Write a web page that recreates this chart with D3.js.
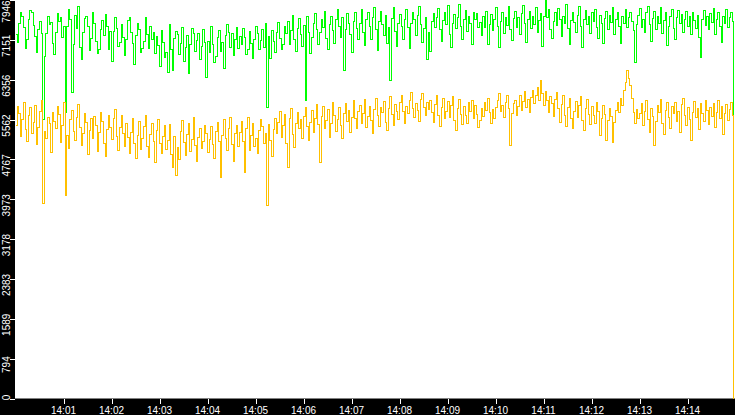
<!DOCTYPE html>
<html>
<head>
<meta charset="utf-8">
<script src="https://cdn.jsdelivr.net/npm/d3@7"></script>
<style>
  body { margin: 0; background: #000; }
  svg { display: block; }
</style>
</head>
<body>
<svg id="chart"></svg>
<script>
// Width and height of svg
var width = 735;
var height = 415;

// sampling: one value every 2 s from 14:00:00
var startTime = new Date(2024, 0, 1, 14, 0, 0);
var endTime = new Date(2024, 0, 1, 14, 15, 0);
var stepMs = 2000;

var yMax = 7946;
var yTickCount = 10;

var greenValues = [
  7250, 7100, 7480, 7690, 7620, 7400, 6980, 7150, 7560, 7740, 7700, 7430, 7210, 6900, 7350,
  7520, 7280, 5560, 6820, 7280, 7610, 7450, 7500, 7080, 6850, 7300, 7670, 7520, 7600, 7190,
  7420, 5700, 7420, 7760, 7550, 6100, 7050, 7640, 7380, 7820, 7000, 6760, 7290, 7580, 7620,
  7410, 6930, 7180, 7700, 7470, 7120, 6880, 6950, 7360, 7540, 7230, 7650, 7420, 6950, 7310,
  6720, 7310, 7590, 7380, 7020, 7100, 7460, 7200, 6840, 7150, 7530, 7600, 7300, 7070, 6650,
  7240, 7480, 7350, 6900, 6980, 7120, 7600, 7260, 6980, 7420, 7150, 7300, 6880, 7210, 7030,
  6620, 7340, 7100, 6790, 6900, 6500, 7450, 6960, 6540, 7180, 7320, 7250, 6850, 7080, 7400,
  6720, 6990, 7230, 6480, 7050, 7370, 7280, 6920, 7140, 7280, 6760, 7010, 7350, 7100, 6400,
  7120, 6890, 7420, 7050, 6700, 6820, 7190, 7330, 6910, 7100, 6580, 7240, 7460, 7300, 6990,
  7270, 6830, 7150, 7390, 6970, 7210, 7050, 7380, 7200, 6860, 6950, 7310, 7080, 6780, 7150,
  7420, 7270, 6950, 7130, 7360, 7000, 7480, 5800, 7220, 6780, 7340, 7110, 6900, 7290, 7500,
  7180, 6960, 7050, 7410, 7280, 7520, 7060, 7330, 7640, 7150, 6920, 7380, 7570, 7250, 7010,
  7440, 5950, 7620, 7300, 6880, 7190, 7480, 7680, 7360, 7050, 7290, 7560, 7400, 7710, 7180,
  6950, 7450, 7620, 7330, 7080, 7550, 7760, 7410, 7200, 7590, 6550, 7360, 7680, 7470, 7250,
  6890, 7520, 7700, 7380, 7160, 7480, 7750, 7300, 7040, 7560, 7690, 7420, 7150, 7600, 7800,
  7350, 6940, 7510, 7720, 7460, 7230, 7640, 7080, 7390, 6350, 7580, 7790, 7320, 7020, 7480,
  7660, 7420, 7150, 7550, 7760, 7390, 6980, 7480, 7700, 7560, 7240, 7630, 7820, 7450, 7100,
  7380, 7600, 6750, 7290, 6920, 7510, 7680, 7400, 7590, 7770, 7360, 7120, 7540, 7700, 7460,
  7830, 7250, 6990, 7480, 7650, 7380, 7590, 7850, 7420, 7160, 7560, 7740, 7310, 7620, 7480,
  7050, 7700, 7550, 7680, 7400, 7500, 7240, 7610, 7390, 7720, 7050, 7460, 7650, 7330, 7560,
  7790, 7410, 7000, 7520, 7690, 7280, 7600, 7430, 7810, 7350, 7130, 7580, 7720, 7400, 7590,
  7250, 7680, 7830, 7470, 7100, 7560, 7710, 7380, 7620, 7450, 7800, 7290, 7540, 7680, 7010,
  7620, 7946, 7600, 7750, 7360, 7180, 7510, 7690, 7430, 7780, 7560, 7210, 7620, 7470, 7850,
  7380, 7060, 7540, 7700, 7490, 7300, 7640, 7810, 7420, 6990, 7560, 7730, 7460, 7620, 7280,
  7690, 7520, 7760, 7400, 7180, 7630, 7470, 7080, 7580, 7720, 7350, 7640, 7500, 7790, 7250,
  7560, 7700, 7420, 7080, 7610, 7480, 7750, 7390, 7600, 7700, 7520, 7330, 6700, 7450, 7640,
  7780, 7400, 7560, 7300, 7690, 7820, 7450, 7120, 7580, 7710, 7360, 7620, 7480, 7800, 7270,
  7540, 7690, 7030, 7410, 7620, 7760, 7380, 7150, 7590, 7730, 7480, 7650, 7300, 7560, 7720,
  7420, 7610, 7250, 7700, 7530, 7380, 7640, 7200, 6800, 7560, 7740, 7430, 7610, 7350, 7680,
  7500, 7780, 7260, 7550, 7700, 7410, 7090, 7620, 7480, 7760, 7390, 7600, 7700, 7520, 2745
];

var orangeValues = [
  5450, 5820, 5680, 5230, 5560, 5910, 5370, 5120, 5640, 5800, 5290, 5500, 5850, 5060, 5410,
  5720, 5950, 3880, 5330, 5180, 5600, 5480, 4900, 5700, 5530, 5380, 5820, 5660, 5100, 5450,
  5900, 4050, 5240, 4980, 5560, 5750, 5320, 5140, 5610, 5870, 5400, 5050, 5290, 5680, 5510,
  4870, 5350, 5590, 5180, 5620, 5450, 4930, 5300, 5700, 5520, 5080, 4820, 5360, 5650, 5410,
  5170, 5580, 5760, 5230, 4950, 5400, 5640, 5290, 5030, 5480, 5200, 4880, 5310, 5580, 5090,
  4780, 5240, 5520, 4960, 5180, 5430, 5650, 5020, 4810, 5270, 5490, 5130, 4700, 5350, 5560,
  5080, 4890, 5220, 5440, 4960, 5150, 5470, 4870, 4600, 5230, 4450, 5010, 4760, 5320, 5550,
  5100, 4840, 5260, 5480, 4920, 5170, 5600, 5050, 4730, 5210, 5390, 4980, 5130, 5450, 5280,
  4900, 5170, 5420, 5060, 4780, 5320, 5500, 5120, 4400, 5240, 5560, 5180, 4940, 5390, 5610,
  5070, 4720, 5280, 5450, 5030, 5300, 5520, 5120, 4500, 5380, 5600, 4950, 5250, 5480, 5020,
  5190, 4880, 5340, 5560, 5420, 5080, 5290, 3850, 5460, 5150, 4820, 5370, 5590, 5280, 5500,
  5730, 5210, 5440, 5660, 5090, 4600, 5580, 5780, 5260, 5010, 5480, 5700, 5390, 5560, 5180,
  5620, 5810, 5430, 5150, 5510, 5740, 5300, 5580, 5860, 5470, 4700, 5620, 5830, 5390, 5550,
  5760, 5200, 5480, 5900, 5650, 5320, 5560, 5800, 5440, 5180, 5690, 5880, 5520, 5740, 5300,
  5600, 5950, 5580, 5380, 5720, 5850, 5490, 5680, 5960, 5400, 5620, 5830, 5550, 5280, 5760,
  5990, 5640, 5430, 5800, 5700, 5920, 5510, 5350, 5780, 6020, 5660, 5450, 5870, 5730, 5560,
  5900, 6050, 5720, 5480, 5830, 5680, 5950, 6100, 5790, 5600, 5880, 5740, 5520, 5960, 6080,
  5810, 5650, 5900, 5760, 5950, 5700, 5500, 5860, 6050, 5640, 5420, 5800, 5990, 5580, 5730,
  5920, 5610, 5850, 6030, 5540, 5350, 5780, 5960, 5670, 5460, 5820, 5650, 5480, 5900, 5720,
  5950, 5590, 5850, 5670, 5400, 5540, 5780, 5620, 5900, 5750, 5980, 5700, 5480, 5760, 5580,
  5800, 5950, 6080, 5720, 5850, 5600, 5900, 6050, 5780, 5050, 5690, 5880, 5940, 5650, 5820,
  6050, 5740, 5920, 6120, 5800, 5960, 5700, 6000, 6150, 5880, 6050, 6200, 5950, 6350, 6080,
  5850, 6120, 5950, 5700, 6030, 5880, 5620, 5960, 6100, 5780, 5500, 5860, 6050, 5640, 5420,
  5800, 5990, 5580, 5380, 5730, 5920, 5610, 5850, 6030, 5540, 5350, 5780, 5960, 5670, 5460,
  5820, 5650, 5480, 5900, 5720, 5250, 5590, 5850, 5670, 5150, 5540, 5780, 5620, 5100, 5500,
  5750, 5900, 5700, 5980, 5850, 6150, 6300, 6550, 6380, 6250, 5980, 5700, 5480, 5760, 5580,
  5690, 5880, 5450, 5720, 5940, 5560, 5300, 5780, 5630, 5050, 5520, 5850, 5700, 5960, 5480,
  5260, 5740, 5900, 5610, 5380, 5820, 5680, 5900, 5530, 5720, 5310, 5860, 5980, 5640, 5450,
  5800, 5570, 5150, 5700, 5920, 5600, 5780, 5360, 5880, 5690, 5520, 5940, 5750, 5460, 5800,
  5620, 5880, 5400, 5710, 5950, 5580, 5820, 5260, 5690, 5870, 5540, 5760, 5900, 5650, 0
];

var plotLeft = 15;
var plotBottom = 398.5;

var svg = d3.select("#chart")
            .attr("width", width)
            .attr("height", height);

// black frame, white plot
svg.append("rect")
  .attr("width", width)
  .attr("height", height)
  .attr("fill", "#000");

svg.append("rect")
  .attr("x", plotLeft)
  .attr("y", 0)
  .attr("width", width - plotLeft)
  .attr("height", plotBottom)
  .attr("fill", "#fff");

var x = d3.scaleTime()
          .domain([startTime, endTime])
          .range([plotLeft + 0.5, width + 0.5]);

var y = d3.scaleLinear()
          .domain([0, yMax])
          .range([plotBottom, 0]);

function timeAt(i) {
  return new Date(startTime.getTime() + i * stepMs);
}

var line = d3.line()
             .x(function(d, i) { return x(timeAt(i)); })
             .y(function(d) { return y(d); })
             .curve(d3.curveStepAfter);

svg.append("clipPath")
  .attr("id", "plot-clip")
  .append("rect")
  .attr("x", plotLeft)
  .attr("y", 0)
  .attr("width", width - plotLeft)
  .attr("height", plotBottom + 1);

var lines = svg.append("g").attr("clip-path", "url(#plot-clip)");

lines.append("path")
  .datum(greenValues)
  .attr("d", line)
  .attr("fill", "none")
  .attr("stroke", "#00ff00")
  .attr("stroke-width", 1)
  .attr("shape-rendering", "crispEdges");

lines.append("path")
  .datum(orangeValues)
  .attr("d", line)
  .attr("fill", "none")
  .attr("stroke", "#ffc000")
  .attr("stroke-width", 1)
  .attr("shape-rendering", "crispEdges");

// y axis: ten equal steps of the max, labels rotated
var yTicks = d3.range(0, yTickCount + 1).map(function(k) { return yMax * k / yTickCount; });

var yAxis = svg.append("g").attr("class", "y-axis");

yAxis.selectAll("line")
  .data(yTicks)
  .enter()
  .append("line")
  .attr("x1", 10)
  .attr("x2", plotLeft)
  .attr("y1", function(d) { return Math.round(y(d)) + 0.5; })
  .attr("y2", function(d) { return Math.round(y(d)) + 0.5; })
  .attr("stroke", "#fff")
  .attr("shape-rendering", "crispEdges");

yAxis.selectAll("text")
  .data(yTicks)
  .enter()
  .append("text")
  .attr("transform", function(d) {
    // keep the end labels inside the strip
    var cy = Math.max(11.5, Math.min(y(d) + 6, 397.5));
    return "translate(9.5," + cy + ")rotate(-90)";
  })
  .attr("text-anchor", "middle")
  .attr("fill", "#fff")
  .style("font-family", "Liberation Sans")
  .style("font-size", "10px")
  .text(function(d) { return Math.floor(d); });

// x axis: one tick per minute, 14:00 left out
var xTicks = d3.timeMinute.range(new Date(startTime.getTime() + 60000), endTime);

var xAxis = svg.append("g").attr("class", "x-axis");

xAxis.selectAll("line")
  .data(xTicks)
  .enter()
  .append("line")
  .attr("x1", function(d) { return Math.round(x(d)) + 0.5; })
  .attr("x2", function(d) { return Math.round(x(d)) + 0.5; })
  .attr("y1", 399)
  .attr("y2", 404)
  .attr("stroke", "#fff")
  .attr("shape-rendering", "crispEdges");

xAxis.selectAll("text")
  .data(xTicks)
  .enter()
  .append("text")
  .attr("x", function(d) { return x(d); })
  .attr("y", 413.5)
  .attr("text-anchor", "middle")
  .attr("fill", "#fff")
  .style("font-family", "Liberation Sans")
  .style("font-size", "10px")
  .text(d3.timeFormat("%H:%M"));
</script>
</body>
</html>
